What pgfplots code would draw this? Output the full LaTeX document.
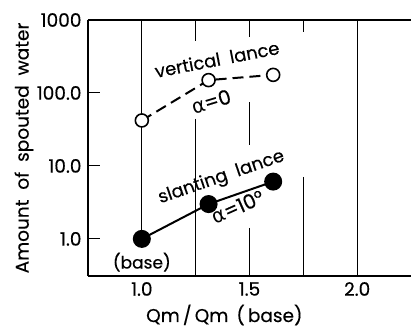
\documentclass[border=0pt]{standalone}
\usepackage{pgfplots}
\pgfplotsset{compat=1.18}
\usepackage{fontspec}
\setmainfont{Poppins}[FakeBold=0.3]
\newfontfamily\greekfont{DejaVu Sans}
\begin{document}
\begin{tikzpicture}
\begin{axis}[
  scale only axis,
  width=323pt, height=256pt,
  xmin=0.75, xmax=2.25,
  ymode=log, ymin=0.31, ymax=1000,
  axis x line*=box, axis y line*=left,
  axis line style={line width=1.6pt},
  xtick={1.0,1.5,2.0},
  xticklabels={1.0,1.5,2.0},
  x tick label style={anchor=center, yshift=-13pt},
  y tick label style={xshift=-3pt},
  ytick={1,10,100,1000},
  yticklabels={1.0,10.0,100.0,1000},
  tick align=inside,
  x tick style={draw=none},
  y tick style={line width=1pt, black},
  major tick length=12pt,
  minor tick num=0,
  log basis y=10,
  tick label style={font=\fontsize{18.5}{21}\selectfont},
  /pgf/number format/assume math mode=true,
  xlabel={Qm\,/\,Qm\, (\,base)},
  ylabel={Amount\ \ of\ \ spouted\ \ water},
  label style={font=\fontsize{18.5}{21}\selectfont},
  x label style={at={(axis description cs:0.422,0)}, anchor=center, yshift=-39pt},
  y label style={at={(axis description cs:0,0.5)}, anchor=center, rotate=0, yshift=64pt},
  clip=false,
]
% partial vertical rules
\addplot[black, line width=1pt] coordinates {(1.0,1000) (1.0,1.0)};
\addplot[black, line width=1pt] coordinates {(1.25,1000) (1.25,515)};
\addplot[black, line width=1pt] coordinates {(1.25,44) (1.25,0.31)};
\addplot[black, line width=1pt] coordinates {(1.5,1000) (1.5,585)};
\addplot[black, line width=1pt] coordinates {(1.5,75) (1.5,19.4)};
\addplot[black, line width=1pt] coordinates {(1.5,1.42) (1.5,0.31)};
\addplot[black, line width=1pt] coordinates {(1.75,1000) (1.75,685)};
\addplot[black, line width=1pt] coordinates {(1.75,7.06) (1.75,0.31)};
\addplot[black, line width=1pt] coordinates {(2.0,1000) (2.0,0.31)};
% data
\addplot[black, line width=2pt, dash pattern=on 11pt off 6pt, mark=*, mark size=6.5pt,
  mark options={solid, fill=white, line width=1.6pt}] coordinates {(1.0,42) (1.31,150) (1.61,177)};
\addplot[black, line width=2pt, mark=*, mark size=8pt,
  mark options={solid, fill=black}] coordinates {(1.0,1.0) (1.31,3.0) (1.61,6.1)};
% annotations
\node[rotate=11, font=\fontsize{18}{21}\selectfont] at (axis cs:1.349,290) {vertical\ \ lance};
\node[rotate=17, font=\fontsize{20}{23}\selectfont] at (axis cs:1.322,76) {{\greekfont α}=0};
\node[rotate=19, font=\fontsize{18}{21}\selectfont] at (axis cs:1.37,6.9) {slanting\ \ lance};
\node[rotate=24, font=\fontsize{20}{23}\selectfont] at (axis cs:1.445,2.75) {{\greekfont α}=10°};
\node[font=\fontsize{17}{20}\selectfont] at (axis cs:1.0,0.48) {(base)};
\end{axis}
\pgfresetboundingbox
\useasboundingbox (-88pt,-53pt) rectangle (323pt,276pt);
\end{tikzpicture}
\end{document}
